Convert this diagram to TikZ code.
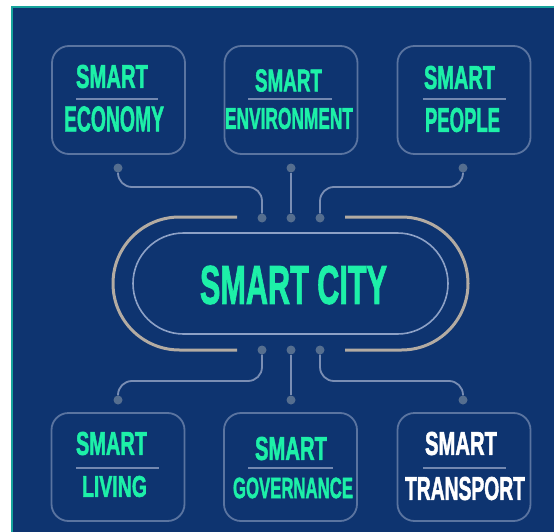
\documentclass[tikz,border=0pt]{standalone}
\usepackage{fontspec}
\usepackage{graphicx}
\setmainfont{Liberation Sans}
\newfontfamily\cityfont[FakeBold=2]{Liberation Sans Bold}
\usepackage{xcolor}
\definecolor{navy}{HTML}{0E3470}
\definecolor{edgeteal}{HTML}{17A39C}
\definecolor{mint}{HTML}{1DF0A8}
\definecolor{boxline}{HTML}{5A74A0}
\definecolor{rulecol}{HTML}{7388B0}
\definecolor{wirecol}{HTML}{7A8EB4}
\definecolor{dotcol}{HTML}{556E8F}
\definecolor{ringout}{HTML}{B3ABA2}
\definecolor{ringin}{HTML}{8DA1C6}

% squeeze a caps word into a w x h box
\newcommand{\fitword}[3]{\resizebox{#1pt}{#2pt}{\cityfont #3}}

\begin{document}
\begin{tikzpicture}[
    x=1pt, y=-1pt,
    sector/.style={draw=boxline, line width=1.8pt, rounded corners=17pt,
        minimum width=133pt, minimum height=108pt, inner sep=0},
    word/.style={inner sep=0, text=mint},
    divider/.style={draw=rulecol, line width=1.3pt},
    pin/.style={circle, fill=dotcol, minimum size=9pt, inner sep=0},
    wire/.style={draw=wirecol, line width=1.8pt, rounded corners=14pt},
    ring/.style={draw=ringout, line width=3pt, rounded corners=66.5pt}
]
\useasboundingbox (0,0) rectangle (554,532);
\fill[white] (0,0) rectangle (554,532);
\fill[navy] (12,7) rectangle (554,532);
\draw[edgeteal, line width=2.5pt] (12,532) -- (12,7) -- (554,7);

% hub
\node[draw=ringin, line width=1.6pt, rounded corners=50.5pt,
      minimum width=315pt, minimum height=101pt] (hub) at (290.5,283.5) {};
\node[word] (hubText) at (293.5,285) {\fitword{187}{38}{SMART CITY}};
\draw[ring] (237,217) -- (113,217) -- (113,350) -- (237,350);
\draw[ring] (345,217) -- (468,217) -- (468,350) -- (345,350);

% top row
\node[sector] (economy) at (118.5,100) {};
\node[word] (economyA) at (112,76.5) {\fitword{72}{23}{SMART}};
\node[word] (economyB) at (114,119) {\fitword{100}{25}{ECONOMY}};
\draw[divider] (76,99) -- (158,99);

\node[sector] (environment) at (291,100) {};
\node[word] (environmentA) at (288.5,80.5) {\fitword{67}{22}{SMART}};
\node[word] (environmentB) at (289,118.5) {\fitword{128}{21}{ENVIRONMENT}};
\draw[divider] (248,99) -- (332,99);

\node[sector] (people) at (464,100) {};
\node[word] (peopleA) at (459.5,77.5) {\fitword{71}{23}{SMART}};
\node[word] (peopleB) at (462.5,120) {\fitword{75}{24}{PEOPLE}};
\draw[divider] (423,99) -- (506,99);

% bottom row
\node[sector] (living) at (118,467) {};
\node[word] (livingA) at (111.5,443.5) {\fitword{71}{23}{SMART}};
\node[word] (livingB) at (114.5,486.5) {\fitword{65}{21}{LIVING}};
\draw[divider] (76,468) -- (159,468);

\node[sector] (governance) at (290.5,467) {};
\node[word] (governanceA) at (291,448.5) {\fitword{72}{23}{SMART}};
\node[word] (governanceB) at (293,488) {\fitword{120}{20.5}{GOVERNANCE}};
\draw[divider] (248,468) -- (333,468);

\node[sector] (transport) at (464,467) {};
\node[word, text=white] (transportA) at (461,443.5) {\fitword{72}{23}{SMART}};
\node[word, text=white] (transportB) at (465,488.5) {\fitword{120}{23}{TRANSPORT}};
\draw[divider] (423,468) -- (506,468);

% pins
\node[pin] (pE) at (118,168) {};
\node[pin] (pV) at (291,168) {};
\node[pin] (pP) at (463,168) {};
\node[pin] (hT1) at (262,218) {};
\node[pin] (hT2) at (291,218) {};
\node[pin] (hT3) at (320,218) {};
\node[pin] (hB1) at (262,350) {};
\node[pin] (hB2) at (291,350) {};
\node[pin] (hB3) at (320,350) {};
\node[pin] (pL) at (118,400) {};
\node[pin] (pG) at (291,400) {};
\node[pin] (pT) at (463,400) {};

% wires
\draw[wire] (pE) -- ++(0,19) -| (hT1);
\draw[wire] (pV) -- (hT2);
\draw[wire] (pP) -- ++(0,19) -| (hT3);
\draw[wire] (pL) -- ++(0,-19) -| (hB1);
\draw[wire] (pG) -- (hB2);
\draw[wire] (pT) -- ++(0,-19) -| (hB3);
\end{tikzpicture}
\end{document}
